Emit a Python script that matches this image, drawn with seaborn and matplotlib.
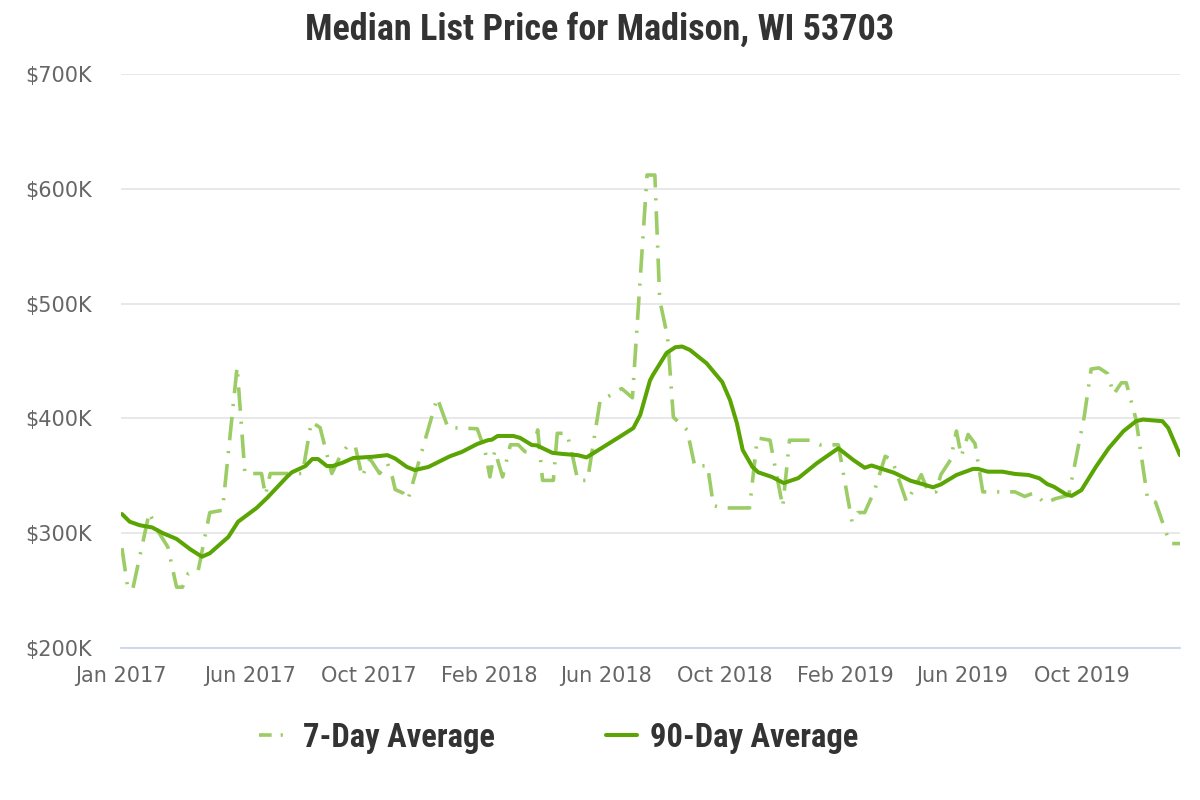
import matplotlib
matplotlib.use("Agg")
from matplotlib import pyplot as plt
import matplotlib.ticker as ticker
import seaborn as sns
import pandas as pd

# data (day offsets from the first point, values in $K)
start_date = "2017-01-20"

week_days = [1, 7, 12, 29, 37, 48, 57, 63, 69, 79, 91, 104, 119, 127, 144, 148, 153, 186,
             195, 204, 216, 224, 232, 240, 247, 255, 265, 273, 278, 281, 289, 294, 324, 335,
             365, 373, 378, 383, 391, 399, 407, 414, 421, 427, 432, 443, 447, 457, 463, 468,
             478, 491, 501, 513, 524, 539, 547, 552, 560, 566, 580, 588, 601, 607, 617, 644,
             652, 665, 678, 685, 706, 716, 735, 742, 749, 755, 762, 772, 783, 790, 805, 820,
             827, 835, 840, 850, 856, 861, 868, 875, 883, 916, 926, 935, 947, 957, 971, 987,
             994, 1002, 1011, 1017, 1025, 1030, 1040, 1052, 1060, 1071, 1075, 1085]
week_vals = [287, 252, 251, 318, 303, 288, 253, 253, 265, 267, 318, 320, 445, 352, 352, 333, 352, 352,
             397, 392, 352, 366, 376, 376, 349, 365, 352, 361, 349, 338, 335, 329, 418, 392,
             391, 372, 349, 372, 349, 377, 377, 371, 371, 390, 346, 346, 387, 387, 366, 346,
             346, 416, 420, 426, 418, 612, 612, 503, 471, 401, 390, 358, 359, 324, 322, 322,
             383, 381, 323, 381, 381, 377, 377, 343, 310, 318, 318, 337, 367, 364, 327, 351,
             336, 336, 351, 364, 389, 367, 386, 378, 336, 336, 332, 335, 326, 330, 333, 402,
             443, 444, 439, 421, 431, 431, 399, 329, 327, 300, 291, 291]

quarter_days = [1, 9, 19, 32, 43, 57, 71, 83, 91, 110, 120, 139, 150, 170, 175, 189, 196, 202,
                211, 217, 227, 238, 258, 273, 281, 293, 301, 315, 337, 349, 365, 376, 380, 386,
                402, 409, 421, 426, 442, 453, 468, 477, 494, 511, 525, 532, 542, 545, 559, 568,
                575, 583, 600, 616, 624, 631, 637, 647, 653, 667, 679, 694, 713, 735, 750, 762,
                769, 778, 792, 809, 821, 832, 840, 856, 873, 878, 888, 903, 916, 930, 941, 949,
                956, 968, 974, 984, 999, 1012, 1027, 1040, 1047, 1067, 1073, 1085]
quarter_vals = [316.7, 310, 307, 305, 300, 295, 286, 279.5, 282.5, 296.7, 310, 322, 331, 349, 353, 358.5,
                364.6, 364.6, 358.5, 358.5, 361.4, 365.5, 366.6, 368, 365, 357.7, 355, 357.7, 367, 370.7,
                377.7, 381, 381.5, 384.7, 384.7, 383, 376.8, 376.5, 370, 369, 368, 366, 375, 384,
                391.6, 403, 433, 437.8, 457, 462, 462.6, 459.6, 448, 431.7, 416, 396, 372.5, 357.7,
                353, 349, 343.7, 348, 361, 374, 364, 357, 359, 356.5, 352.7, 345.7, 342.8, 340,
                342.5, 350.7, 356, 356, 353.6, 353.6, 351.6, 350.7, 347.8, 342.8, 340.4, 334, 332.5,
                337.5, 358, 374, 388.8, 397.6, 399, 397.6, 391.7, 368]

tick_dates = ["2017-01-20", "2017-06-01", "2017-10-01", "2018-02-01", "2018-06-01",
              "2018-10-01", "2019-02-01", "2019-06-01", "2019-10-01"]
tick_labels = ["Jan 2017", "Jun 2017", "Oct 2017", "Feb 2018", "Jun 2018",
               "Oct 2018", "Feb 2019", "Jun 2019", "Oct 2019"]
y_ticks = [200, 300, 400, 500, 600, 700]

t0 = pd.Timestamp(start_date)
df7 = pd.DataFrame({"date": t0 + pd.to_timedelta(week_days, unit="D"), "price": week_vals})
df90 = pd.DataFrame({"date": t0 + pd.to_timedelta(quarter_days, unit="D"), "price": quarter_vals})

sns.set_style("white")
plt.rcParams["font.family"] = ["DejaVu Sans"]
condensed = ["Roboto Condensed", "Liberation Sans Narrow", "Roboto", "DejaVu Sans"]

light_green = "#9ccc65"
dark_green = "#5aa404"

fig = plt.figure(figsize=(12, 8), dpi=100)
ax = fig.add_axes([0.1008, 0.19, 0.8825, 0.7175])

sns.lineplot(data=df7, x="date", y="price", ax=ax, color=light_green, lw=2.6,
             label="7-Day Average")
ax.lines[-1].set_dashes([6.5, 3, 0.6, 3])
sns.lineplot(data=df90, x="date", y="price", ax=ax, color=dark_green, lw=2.9,
             label="90-Day Average")

ax.set_xlim(t0, t0 + pd.Timedelta(days=1085))
ax.set_ylim(200, 700)
ax.set_yticks(y_ticks)
ax.yaxis.set_major_formatter(ticker.FuncFormatter(lambda v, p: f"${v:.0f}K"))
ax.set_xticks(pd.to_datetime(tick_dates))
ax.set_xticklabels(tick_labels)
ax.set_xlabel("")
ax.set_ylabel("")

ax.grid(axis="y", color="#e6e6e6", lw=1.3)
ax.set_axisbelow(True)
for side in ["top", "right", "left"]:
    ax.spines[side].set_visible(False)
ax.spines["bottom"].set_color("#ccd6eb")
ax.spines["bottom"].set_linewidth(1.3)
ax.tick_params(axis="x", colors="#ccd6eb", length=12, width=1.3, labelcolor="#666666",
               labelsize=15, pad=1)
ax.tick_params(axis="y", length=0, labelcolor="#666666", labelsize=15, pad=21)

fig.suptitle("Median List Price for Madison, WI 53703", x=0.5, y=0.985,
             fontsize=26, fontweight="bold", color="#333333", family=condensed)

leg = ax.legend(loc="upper center", bbox_to_anchor=(0.413, -0.077), ncol=2, frameon=False,
                handlelength=0.95, columnspacing=3.4, handletextpad=0.4,
                prop={"family": condensed, "weight": "bold", "size": 23.5})
for txt in leg.get_texts():
    txt.set_color("#333333")
leg.get_lines()[0].set_dashes([3.5, 2.5, 0.6, 3])

fig.savefig("out.png", dpi=100)
